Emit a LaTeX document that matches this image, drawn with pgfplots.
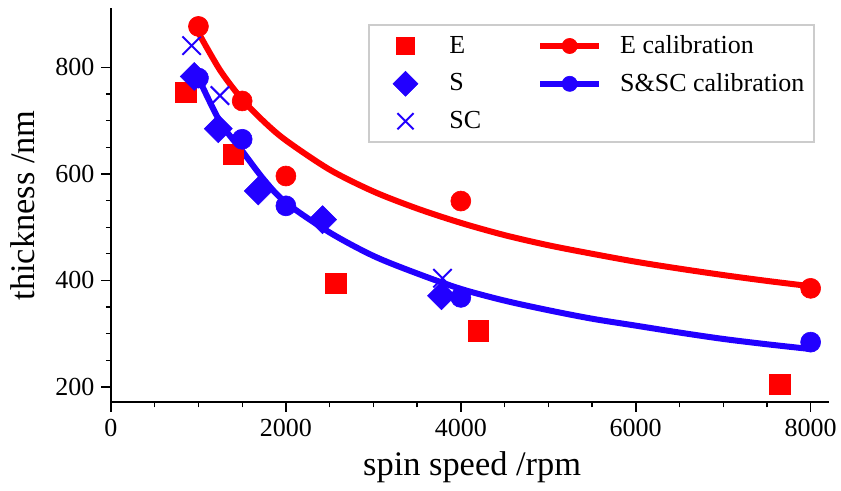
\documentclass[border=0pt]{standalone}
\usepackage{fontspec}
\setmainfont{Liberation Serif}
\usepackage{pgfplots}
\pgfplotsset{compat=1.18}
\definecolor{myblue}{RGB}{34,0,255}
\definecolor{myred}{RGB}{255,0,0}
\definecolor{leggray}{RGB}{204,204,204}
\begin{document}
\begin{tikzpicture}
\begin{axis}[
  at={(0,0)}, anchor=south west,
  scale only axis, width=359pt, height=197pt,
  xmin=0, xmax=8210, ymin=171, ymax=911,
  axis lines*=left,
  axis line style={-, line width=1pt},
  xtick={0,2000,4000,6000,8000},
  ytick={200,400,600,800},
  minor x tick num=3, minor y tick num=3,
  tick align=outside,
  major tick length=4.75pt, minor tick length=2.6pt,
  every tick/.style={black, line width=0.8pt},
  every minor tick/.style={black, line width=0.6pt},
  scaled x ticks=false,
  xticklabel={\rmfamily\pgfmathprintnumber[assume math mode=true,set thousands separator={}]{\tick}},
  yticklabel={\rmfamily\pgfmathprintnumber[assume math mode=true,set thousands separator={}]{\tick}},
  tick label style={font=\rmfamily\fontsize{13}{15}\selectfont},
  xlabel={spin speed /rpm}, ylabel={thickness /nm},
  label style={font=\rmfamily\fontsize{17.2}{20}\selectfont},
  xlabel style={at={(axis description cs:0.503,-0.187)}, anchor=base},
  ylabel style={at={(axis description cs:-0.106,0.5)}, anchor=base},
  legend style={at={(0.981,0.961)}, anchor=north east, draw=leggray, line width=1pt,
    font=\rmfamily\fontsize{13}{15}\selectfont, legend columns=2,
    /tikz/every even column/.append style={column sep=26pt},
    /tikz/row sep=4.4pt, inner xsep=3pt, inner ysep=3.4pt},
  legend cell align=left,
  clip=false,
]
% E scatter
\addplot[forget plot, only marks, mark=square*, color=myred, mark size=5.1pt, mark options={line width=0.3pt}]
  coordinates {(857,753) (1398,637) (2570,395) (4198,305) (7646,205)};
% S scatter
\addplot[forget plot, only marks, mark=square*, color=myblue, mark size=4.95pt, mark options={rotate=45, line width=0.3pt}]
  coordinates {(952,783) (1227,685) (1684,568) (2419,514) (3779,371)};
% SC scatter
\addplot[forget plot, only marks, mark=x, color=myblue, mark size=6.5pt, mark options={line width=1pt}]
  coordinates {(922,841) (1246,747) (3790,404)};
% E calibration curve
\addplot[forget plot, color=myred, line width=3pt, smooth, no marks] table {
x y
1000 865
1250 794
1500 740
1750 698
2000 663
2500 608
3000 567
3500 535
4000 508
4500 485
5000 466
5500 450
6000 435
6500 422
7000 410
7500 399
8000 389
};
\addplot[forget plot, only marks, mark=*, color=myred, mark size=5pt, mark options={line width=0.3pt}]
  coordinates {(1000,877) (1500,737) (2000,596) (4000,549) (8000,385)};
% S&SC calibration curve
\addplot[forget plot, color=myblue, line width=3pt, smooth, no marks] table {
x y
1000 780
1250 697
1500 643
1750 589
2000 546
2500 490
3000 446
3500 413
4000 384
4500 362
5000 344
5500 328
6000 315
6500 302
7000 290
7500 280
8000 271
};
\addplot[forget plot, only marks, mark=*, color=myblue, mark size=5pt, mark options={line width=0.3pt}]
  coordinates {(1000,780) (1500,665) (2000,540) (4000,368) (8000,284)};
% legend
\addlegendimage{only marks, mark=square*, color=myred, mark size=4.4pt, mark options={line width=0.3pt},
  legend image code/.code={\path (0pt,0pt) (34.2pt,0pt); \draw[only marks] plot coordinates {(14.75pt,0pt)};}}
\addlegendentry{E}
\addlegendimage{color=myred, line width=3pt, mark=*, mark size=3.8pt, mark options={line width=0.3pt},
  legend image code/.code={\draw[mark repeat=2,mark phase=2] plot coordinates {(0pt,0pt) (14.75pt,0pt) (29.5pt,0pt)}; \path (36.5pt,0pt);}}
\addlegendentry{E calibration}
\addlegendimage{only marks, mark=square*, color=myblue, mark size=4.4pt, mark options={rotate=45, line width=0.3pt},
  legend image code/.code={\path (0pt,0pt) (34.2pt,0pt); \draw[only marks] plot coordinates {(14.75pt,0pt)};}}
\addlegendentry{S}
\addlegendimage{color=myblue, line width=3pt, mark=*, mark size=3.8pt, mark options={line width=0.3pt},
  legend image code/.code={\draw[mark repeat=2,mark phase=2] plot coordinates {(0pt,0pt) (14.75pt,0pt) (29.5pt,0pt)}; \path (36.5pt,0pt);}}
\addlegendentry{S\&SC calibration}
\addlegendimage{only marks, mark=x, color=myblue, mark size=5.7pt, mark options={line width=1pt},
  legend image code/.code={\path (0pt,0pt) (34.2pt,0pt); \draw[only marks] plot coordinates {(14.75pt,0pt)};}}
\addlegendentry{SC}
\addlegendimage{empty legend}
\addlegendentry{}
\end{axis}
\pgfresetboundingbox
\useasboundingbox (-55.5pt,-44.35pt) rectangle (365pt,201.15pt);
\end{tikzpicture}
\end{document}
